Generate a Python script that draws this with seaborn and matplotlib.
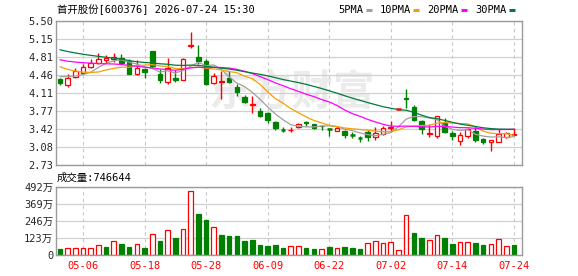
import numpy as np
import pandas as pd
import matplotlib
matplotlib.use("Agg")
import matplotlib.pyplot as plt
from matplotlib.patches import Rectangle
import seaborn as sns

# ---------------- data ----------------
stock_name = "首开股份"
stock_code = "600376"
timestamp = "2026-07-24 15:30"

trading_days = pd.bdate_range("2026-04-28", "2026-07-24", freq="C",
                              holidays=["2026-05-01", "2026-05-04", "2026-05-05", "2026-06-19"])
date_labels = [d.strftime("%m-%d") for d in trading_days]

opens = [4.378, 4.263, 4.430, 4.506, 4.622, 4.699, 4.750, 4.776, 4.795, 4.724,
         4.481, 4.570, 4.923, 4.474, 4.327, 4.400, 4.365, 5.020, 4.814, 4.731,
         4.301, 4.320, 4.412, 4.225, 4.038, 3.875, 3.765, 3.726, 3.554, 3.400,
         3.400, 3.455, 3.563, 3.512, 3.486, 3.436, 3.378, 3.385, 3.310, 3.260,
         3.372, 3.270, 3.321, 3.436, 3.815, 4.015, 3.855, 3.575, 3.330, 3.296,
         3.537, 3.347, 3.200, 3.283, 3.391, 3.233, 3.169, 3.182, 3.264, 3.310]
highs = [4.404, 4.474, 4.603, 4.667, 4.763, 4.891, 4.840, 4.891, 4.872, 4.763,
         4.744, 4.590, 4.923, 4.570, 4.782, 4.558, 4.788, 5.288, 5.032, 4.763,
         4.494, 4.535, 4.545, 4.282, 4.080, 4.050, 3.835, 3.745, 3.576, 3.455,
         3.460, 3.537, 3.575, 3.512, 3.499, 3.448, 3.480, 3.398, 3.360, 3.296,
         3.398, 3.460, 3.474, 3.569, 3.815, 4.198, 3.880, 3.594, 3.525, 3.677,
         3.626, 3.391, 3.372, 3.448, 3.486, 3.258, 3.207, 3.423, 3.360, 3.450]
lows = [4.276, 4.231, 4.404, 4.474, 4.596, 4.667, 4.686, 4.712, 4.680, 4.481,
        4.462, 4.397, 4.603, 4.314, 4.290, 4.327, 4.359, 4.980, 4.667, 4.263,
        4.282, 4.000, 4.314, 4.064, 3.917, 3.732, 3.662, 3.535, 3.404, 3.360,
        3.360, 3.442, 3.474, 3.423, 3.410, 3.283, 3.378, 3.252, 3.245, 3.180,
        3.200, 3.207, 3.308, 3.372, 3.815, 3.817, 3.582, 3.328, 3.264, 3.250,
        3.347, 3.220, 3.118, 3.245, 3.182, 3.131, 2.990, 3.170, 3.245, 3.300]
closes = [4.301, 4.404, 4.545, 4.615, 4.699, 4.776, 4.788, 4.801, 4.699, 4.481,
          4.590, 4.526, 4.635, 4.359, 4.603, 4.372, 4.776, 5.045, 4.724, 4.282,
          4.449, 4.340, 4.328, 4.134, 3.940, 3.898, 3.675, 3.598, 3.448, 3.390,
          3.412, 3.525, 3.538, 3.450, 3.474, 3.428, 3.448, 3.309, 3.300, 3.250,
          3.264, 3.347, 3.436, 3.468, 3.815, 3.995, 3.596, 3.423, 3.342, 3.664,
          3.360, 3.296, 3.309, 3.423, 3.220, 3.182, 3.207, 3.328, 3.340, 3.330]
# closes before the visible window (estimated from where the MA lines start)
prior_closes = [5.40, 5.38, 5.36, 5.35, 5.34, 5.33, 5.31, 5.30, 5.28, 5.25,
                4.95, 4.90, 4.85, 4.88, 4.92, 4.90, 4.87, 4.89, 4.86, 4.88,
                4.90, 4.88, 4.82, 4.76, 4.69, 4.40, 4.495, 4.465, 4.49]
# volume in 万 shares
volumes_wan = [45.4, 50.1, 50.1, 50.1, 50.1, 71.6, 59.7, 100.3, 81.2, 59.7,
               78.8, 52.5, 150.4, 102.7, 181.5, 124.2, 186.3, 458.5, 296.1, 253.1,
               200.6, 145.7, 138.5, 138.5, 102.7, 109.8, 74.0, 66.9, 74.0, 52.5,
               66.9, 66.9, 52.5, 45.4, 45.4, 59.7, 52.5, 59.7, 52.5, 45.4,
               88.4, 102.7, 88.4, 95.5, 38.2, 289.0, 160.0, 124.2, 109.8, 145.7,
               124.2, 81.2, 95.5, 95.5, 88.4, 74.0, 81.2, 117.0, 66.9, 74.6644]
volume_up = [0, 1, 1, 1, 1, 1, 0, 1, 0, 0,
             1, 0, 1, 0, 1, 0, 1, 1, 0, 0,
             1, 0, 0, 0, 0, 0, 0, 0, 0, 0,
             1, 1, 0, 0, 1, 0, 1, 0, 0, 0,
             1, 1, 1, 1, 1, 1, 0, 0, 1, 1,
             0, 0, 1, 1, 0, 0, 1, 1, 1, 0]
tick_dates = ["05-06", "05-18", "05-28", "06-09", "06-22", "07-02", "07-14", "07-24"]
price_ticks = [2.73, 3.08, 3.42, 3.77, 4.11, 4.46, 4.81, 5.15, 5.50]
volume_ticks_wan = [0, 123, 246, 369, 492]
ma_periods = [5, 10, 20, 30]
ma_names = ["5PMA", "10PMA", "20PMA", "30PMA"]
ma_colors = ["#a0a0a0", "#f5a000", "#ff00ff", "#007a3d"]

# ---------------- style ----------------
sns.set_theme(style="white")
plt.rcParams["font.family"] = ["DejaVu Sans Mono", "Noto Sans CJK SC"]
plt.rcParams["axes.unicode_minus"] = False

RED = "#ff0000"
GREEN = "#008000"
FRAME = "#9a9a9a"
GRID = "#d0d0d0"
FS = 7.5

W, H = 578, 276
fig = plt.figure(figsize=(W / 100, H / 100), dpi=100)


def rect(l, t, r, b):
    return [l / W, 1 - b / H, (r - l) / W, (b - t) / H]


ax = fig.add_axes(rect(56, 21, 522, 165))
axv = fig.add_axes(rect(56, 186.7, 522, 255.3))

n = len(closes)
x = np.arange(n)
tick_pos = [date_labels.index(d) for d in tick_dates]

for a in (ax, axv):
    a.set_xlim(-0.5, 60.05)
    for s in a.spines.values():
        s.set_visible(True)
        s.set_color(FRAME)
        s.set_linewidth(1.0)
    a.set_xticks(tick_pos)
    a.tick_params(length=0, labelsize=FS, pad=2)
    a.xaxis.grid(True, color="#c8c8c8", linestyle=(0, (3, 3)), linewidth=0.8)
    a.yaxis.grid(True, color=GRID, linestyle="-", linewidth=0.9)
    a.set_axisbelow(True)
    a.set_facecolor("white")

# watermark
ax.text(0.505, 0.507, "东方财富", transform=ax.transAxes, ha="center", va="center",
        fontsize=30, color="#ebebeb", fontweight="bold",
        family=["Noto Sans CJK SC"], zorder=0.5)

# ---------------- candles ----------------
bw = 0.6
for i in range(n):
    o, h, l, c = opens[i], highs[i], lows[i], closes[i]
    up = c >= o
    col = RED if up else GREEN
    top, bot = max(o, c), min(o, c)
    if top - bot < 0.012:
        ax.vlines(i, l, h, color=col, linewidth=1.0, zorder=2)
        ax.hlines((o + c) / 2, i - bw / 2, i + bw / 2, color=col, linewidth=1.8, zorder=2)
        continue
    if h > top:
        ax.vlines(i, top, h, color=col, linewidth=1.0, zorder=2)
    if l < bot:
        ax.vlines(i, l, bot, color=col, linewidth=1.0, zorder=2)
    ax.add_patch(Rectangle((i - bw / 2, bot), bw, top - bot,
                           facecolor="white" if up else GREEN, edgecolor=col,
                           linewidth=0.9, zorder=2))

# ---------------- moving averages ----------------
all_closes = pd.Series(prior_closes + closes)
k = len(prior_closes)
rows = []
for p, name in zip(ma_periods, ma_names):
    ma = all_closes.rolling(p).mean().iloc[k:].to_numpy()
    rows.append(pd.DataFrame({"idx": x, "value": ma, "ma": name}))
ma_df = pd.concat(rows, ignore_index=True)
sns.lineplot(data=ma_df, x="idx", y="value", hue="ma", hue_order=ma_names,
             palette=ma_colors, ax=ax, legend=False, linewidth=0.9, zorder=3)

ax.set_ylim(price_ticks[0], price_ticks[-1])
ax.set_yticks(price_ticks)
ax.set_yticklabels([f"{v:.2f}" for v in price_ticks])
ax.tick_params(labelbottom=False)
ax.set_xlabel("")
ax.set_ylabel("")

# ---------------- volume ----------------
for i in range(n):
    v = volumes_wan[i]
    if volume_up[i]:
        axv.add_patch(Rectangle((i - bw / 2, 0), bw, v, facecolor="white",
                                edgecolor=RED, linewidth=0.9, zorder=2))
    else:
        axv.add_patch(Rectangle((i - bw / 2, 0), bw, v, facecolor=GREEN,
                                edgecolor=GREEN, linewidth=0.9, zorder=2))
axv.set_ylim(0, volume_ticks_wan[-1])
axv.set_yticks(volume_ticks_wan)
axv.set_yticklabels([("0" if v == 0 else f"{v}万") for v in volume_ticks_wan])
axv.set_xticklabels(tick_dates, color=RED)
axv.tick_params(axis="x", pad=4)

# ---------------- texts ----------------
fig.text(57 / W, 1 - 10 / H, f"{stock_name}[{stock_code}] {timestamp}",
         ha="left", va="center", fontsize=FS, color="black")
last_volume = int(round(volumes_wan[-1] * 1e4))
fig.text(57 / W, 1 - 178 / H, f"成交量:{last_volume}",
         ha="left", va="center", fontsize=FS, color="black")

# legend at top right
fig.canvas.draw()
renderer = fig.canvas.get_renderer()
xpos = 338.5
for name, col in zip(ma_names, ma_colors):
    t = fig.text(xpos / W, 1 - 10 / H, name, ha="left", va="center",
                 fontsize=FS, color="black")
    bb = t.get_window_extent(renderer)
    x0 = bb.x1 + 2
    fig.add_artist(plt.Line2D([x0 / W, (x0 + 6) / W], [1 - 10 / H, 1 - 10 / H],
                              transform=fig.transFigure, color=col, linewidth=2.2,
                              solid_capstyle="butt"))
    xpos = x0 + 6 + 8.5

fig.savefig("out.png", dpi=100)
